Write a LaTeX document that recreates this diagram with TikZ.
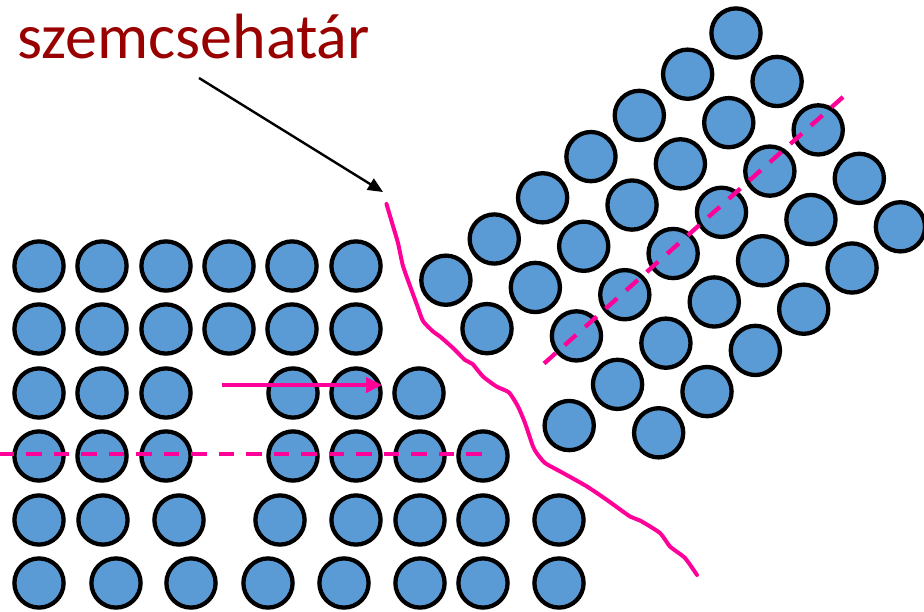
\documentclass[tikz,border=0pt]{standalone}
\usepackage{fontspec}
\setmainfont{Carlito}
\usetikzlibrary{arrows.meta}
\definecolor{atomblue}{RGB}{91,155,213}
\definecolor{gbpink}{RGB}{255,0,153}
\definecolor{labelred}{RGB}{153,0,0}
\begin{document}
\begin{tikzpicture}[x=1pt,y=-1pt,
  atom/.style={circle,draw=black,fill=atomblue,line width=4.3pt,minimum size=49.2pt,inner sep=0pt},
  plane/.style={draw=gbpink,line width=4.3pt,dash pattern=on 15.5pt off 12pt},
  boundary/.style={draw=gbpink,line width=4pt,line join=round,line cap=round},
  push/.style={draw=gbpink,line width=4.3pt,-{Triangle[length=16pt,width=15pt]}},
  pointer/.style={draw=black,line width=2.4pt,-{Triangle[length=15pt,width=13pt]}},
  lbl/.style={font=\fontsize{64}{70}\selectfont,text=labelred,inner sep=0pt,anchor=base west}]
\useasboundingbox (0,0) rectangle (924,611);

% left grain: square lattice with an extra half-plane of atoms
\foreach \r/\y/\xs in {1/266/{39,102,166,229,292,356},
                       2/329/{39,102,166,229,292,356},
                       3/393/{39,102,166,293,356,419},
                       4/456/{39,102,166,293,356,420,483},
                       5/520/{39,103,179,280,356,420,483,559},
                       6/583/{39,116,191,268,344,420,483,559}}{
  \foreach \x [count=\c] in \xs {
    \node[atom] (l\r-\c) at (\x,\y) {};
  }
}

% right grain: rotated square lattice
\begin{scope}[shift={(736,33)},x={(-48.35pt,-41.2pt)},y={(41.1pt,-48.45pt)}]
  \foreach \i/\j in {0/0,0/1,0/2,0/3,0/4,
                     1/0,1/1,1/2,1/3,1/4,
                     2/0,2/1,2/2,2/3,2/4,
                     3/0,3/1,3/2,3/3,3/4,
                     4/0,4/1,4/2,4/3,4/4,
                     5/0,5/1,5/2,5/3,5/4,
                     6/0,6/1,6/3}{
    \node[atom] (r\i\j) at (\i,\j) {};
  }
\end{scope}

% lattice planes
\coordinate (planeLa) at (0,454);
\coordinate (planeLb) at (490,454);
\coordinate (planeRa) at (843,97);
\coordinate (planeRb) at (539,368);
\draw[plane,dash phase=1.5pt] (planeLa) -- (planeLb);
\draw[plane] (planeRa) -- (planeRb);

% slip direction
\coordinate (pushS) at (222,385);
\coordinate (pushE) at (382,385);
\draw[push] (pushS) -- (pushE);

% grain boundary
\draw[boundary] plot[smooth,tension=0.35] coordinates {
  (386.5,204) (393,226) (398,243) (403,266) (411.5,290) (417,305)
  (423,321) (433,331.5) (440,336.5) (453,348) (465,360) (472.5,364)
  (483,376.5) (496.5,386.5) (509,392.5) (518,406.5) (525,423)
  (533,446.5) (537,453.5) (545,463) (563,473) (587,486.5) (607,500)
  (630,516.5) (640,520.5) (660,533) (670,546.5) (685,558) (697,575)};

% label
\node[lbl] (label) at (17,58) {szemcsehatár};
\coordinate (lblfoot) at (199,78);
\coordinate (gbtop) at (383,192);
\draw[pointer] (lblfoot) -- (gbtop);
\end{tikzpicture}
\end{document}
